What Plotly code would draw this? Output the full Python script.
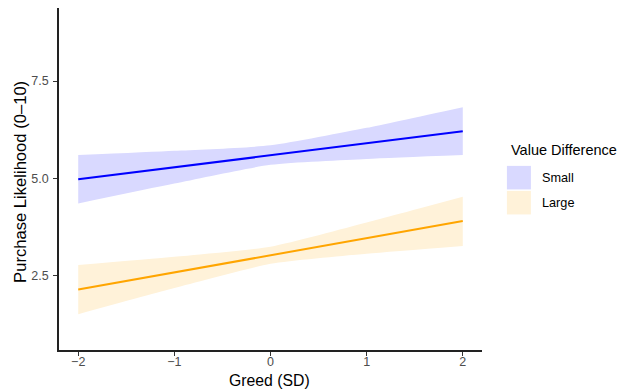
import plotly.graph_objects as go

# Data
greed = [-2, -1, 0, 1, 2]
small_fit = [4.98, 5.29, 5.60, 5.90, 6.21]
small_lo = [4.36, 4.87, 5.35, 5.50, 5.60]
small_hi = [5.60, 5.71, 5.85, 6.30, 6.83]
large_fit = [2.15, 2.59, 3.03, 3.47, 3.91]
large_lo = [1.52, 2.19, 2.81, 3.07, 3.27]
large_hi = [2.78, 2.99, 3.25, 3.87, 4.53]

groups = ["Small", "Large"]
line_colors = ["#0000FF", "#FFA500"]
fill_colors = ["#D9D9FF", "#FFF2D9"]
x_ticks = [-2, -1, 0, 1, 2]
x_ticklabels = ["\u22122", "\u22121", "0", "1", "2"]
y_ticks = [2.5, 5.0, 7.5]
y_ticklabels = ["2.5", "5.0", "7.5"]

FONT = "Liberation Sans, Arial, sans-serif"
OFF = 8  # page body margin offset
W, H = 633 - OFF, 391 - OFF
ML, MR, MT = 59 - OFF, 151.2, 0
MB = H - (349.6 - OFF)
PW, PH = W - ML - MR, H - MT - MB

fig = go.Figure()
series = [(small_fit, small_lo, small_hi), (large_fit, large_lo, large_hi)]
for (fit, lo, hi), fc in zip(series, fill_colors):
    fig.add_trace(go.Scatter(
        x=greed, y=lo, mode="lines",
        line=dict(width=0, shape="spline", smoothing=0.6, color=fc),
        hoverinfo="skip", showlegend=False))
    fig.add_trace(go.Scatter(
        x=greed, y=hi, mode="lines", fill="tonexty", fillcolor=fc,
        line=dict(width=0, shape="spline", smoothing=0.6, color=fc),
        hoverinfo="skip", showlegend=False))
for (fit, lo, hi), lc, name in zip(series, line_colors, groups):
    fig.add_trace(go.Scatter(x=greed, y=fit, mode="lines", name=name,
                             line=dict(color=lc, width=2), showlegend=False))

axis_common = dict(showline=True, linecolor="#222222", linewidth=1.5,
                   ticks="outside", ticklen=4, tickwidth=1.2, tickcolor="#333333",
                   showgrid=False, zeroline=False, automargin=False,
                   tickfont=dict(family=FONT, size=12.5, color="#4D4D4D"))
fig.update_xaxes(range=[-2.2, 2.2], tickvals=x_ticks, ticktext=x_ticklabels,
                 ticklabelstandoff=-5, **axis_common)
fig.update_yaxes(range=[0.6, 9.4 - 1 / 38.93], tickvals=y_ticks, ticktext=y_ticklabels,
                 ticklabelstandoff=2, **axis_common)

def px_x(px):
    return (px - OFF - ML) / PW

def px_y(py):
    return (H - MB - (py - OFF)) / PH

shapes = []
annotations = [
    dict(x=px_x(269.7), y=px_y(380), xref="paper", yref="paper", xanchor="center", yanchor="middle",
         text="Greed (SD)", showarrow=False, font=dict(family=FONT, size=15.8, color="#000")),
    dict(x=px_x(20.7), y=px_y(182), xref="paper", yref="paper", xanchor="center", yanchor="middle",
         text="Purchase Likelihood (0\u201310)", showarrow=False, textangle=-90,
         font=dict(family=FONT, size=16.6, color="#000")),
    dict(x=px_x(508.5), y=px_y(150), xref="paper", yref="paper", xanchor="left", yanchor="middle",
         text="Value Difference", showarrow=False, font=dict(family=FONT, size=14.5, color="#000")),
]
key_tops = [165.7, 190.7]
for top, fc, name in zip(key_tops, fill_colors, groups):
    shapes.append(dict(type="rect", xref="paper", yref="paper",
                       x0=px_x(506.7), x1=px_x(530.7), y0=px_y(top), y1=px_y(top + 23.5),
                       fillcolor=fc, line=dict(width=0), layer="above"))
    annotations.append(dict(x=px_x(539.5), y=px_y(top + 11.8), xref="paper", yref="paper",
                            xanchor="left", yanchor="middle", text=name, showarrow=False,
                            font=dict(family=FONT, size=12.7, color="#000")))

fig.update_layout(width=W, height=H, margin=dict(l=ML, r=MR, t=MT, b=MB),
                  plot_bgcolor="white", paper_bgcolor="white",
                  shapes=shapes, annotations=annotations, showlegend=False)

fig.write_html("out.html")
